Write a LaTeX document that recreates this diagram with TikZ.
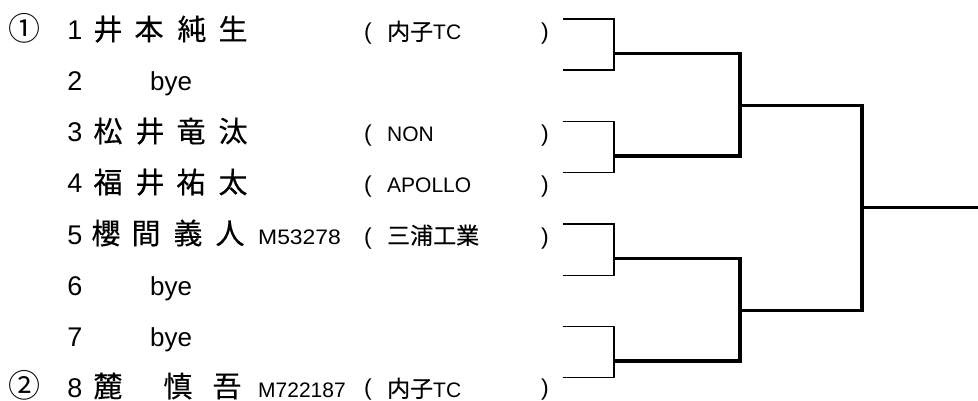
\documentclass[tikz,border=0pt]{standalone}
\usepackage{fontspec}
\setmainfont{Liberation Sans}
\newfontfamily\jp[FakeBold=0.4]{Noto Sans CJK JP}
\newfontfamily\jpc{Noto Sans CJK JP}
\tikzset{
  numtxt/.style={font=\fontsize{27}{27}\selectfont, inner sep=0pt, anchor=base},
  byetxt/.style={font=\fontsize{26}{26}\selectfont, inner sep=0pt, anchor=base west},
  namechar/.style={font=\jp\fontsize{29}{29}\selectfont, inner sep=0pt, anchor=base},
  circnum/.style={font=\jpc\fontsize{32}{32}\selectfont, inner sep=0pt, anchor=base},
  idtxt/.style={font=\fontsize{21}{21}\selectfont, inner sep=0pt, anchor=base west},
  clubtxt/.style={font=\fontsize{21}{21}\selectfont, inner sep=0pt, anchor=base west},
  paren/.style={font=\fontsize{23}{23}\selectfont, inner sep=0pt, anchor=base},
  thinline/.style={line width=1.3pt, line cap=rect},
  heavyline/.style={line width=3.2pt, line cap=rect},
}
\newcommand{\cj}[1]{{\jp\fontsize{23}{23}\selectfont #1}}
\begin{document}
\begin{tikzpicture}[x=1pt,y=-1pt]
\useasboundingbox (0,0) rectangle (978,401);
% circled seeds
\node[circnum] (c1) at (25,41) {①};
\node[circnum] (c2) at (25,397) {②};
% row numbers
\foreach \i in {1,...,8}{
  \node[numtxt] (n\i) at (75,{40+51*(\i-1)}) {\i};
}
% row 1
\node[namechar] (r1a) at (108,40) {井};
\node[namechar] (r1b) at (149,40) {本};
\node[namechar] (r1c) at (192,40) {純};
\node[namechar] (r1d) at (233,40) {生};
\node[paren] (r1l) at (368,40) {(};
\node[clubtxt] (r1t) at (387,40) {\cj{内子}TC};
\node[paren] (r1r) at (545,40) {)};
% row 2
\node[byetxt] (r2) at (150,91) {bye};
% row 3
\node[namechar] (r3a) at (108,142) {松};
\node[namechar] (r3b) at (150,142) {井};
\node[namechar] (r3c) at (191,142) {竜};
\node[namechar] (r3d) at (233,142) {汰};
\node[paren] (r3l) at (368,142) {(};
\node[clubtxt] (r3t) at (387,142) {NON};
\node[paren] (r3r) at (545,142) {)};
% row 4
\node[namechar] (r4a) at (108,193) {福};
\node[namechar] (r4b) at (150,193) {井};
\node[namechar] (r4c) at (191,193) {祐};
\node[namechar] (r4d) at (233,193) {太};
\node[paren] (r4l) at (368,193) {(};
\node[clubtxt] (r4t) at (387,193) {APOLLO};
\node[paren] (r4r) at (545,193) {)};
% row 5
\node[namechar] (r5a) at (106,244) {櫻};
\node[namechar] (r5b) at (146,244) {間};
\node[namechar] (r5c) at (188,244) {義};
\node[namechar] (r5d) at (230,244) {人};
\node[idtxt] (r5i) at (258,244) {\scalebox{1.09}[1]{M53278}};
\node[paren] (r5l) at (368,244) {(};
\node[clubtxt] (r5t) at (387,244) {\cj{三浦工業}};
\node[paren] (r5r) at (545,244) {)};
% rows 6,7
\node[byetxt] (r6) at (150,295) {bye};
\node[byetxt] (r7) at (150,346) {bye};
% row 8
\node[namechar] (r8a) at (108,397) {麓};
\node[namechar] (r8b) at (178,397) {慎};
\node[namechar] (r8c) at (227,397) {吾};
\node[idtxt] (r8i) at (258,397) {M722187};
\node[paren] (r8l) at (368,395) {(};
\node[clubtxt] (r8t) at (387,397) {\cj{内子}TC};
\node[paren] (r8r) at (545,395) {)};
% bracket coordinates
\coordinate (a1) at (564,19);    \coordinate (a2) at (564,70);
\coordinate (a3) at (564,121.7); \coordinate (a4) at (564,172.7);
\coordinate (a5) at (564,224);   \coordinate (a6) at (564,275.3);
\coordinate (a7) at (564,326.7); \coordinate (a8) at (564,377.7);
\coordinate (v1) at (614,19);    \coordinate (v2) at (614,70);
\coordinate (v3) at (614,121.7); \coordinate (v4) at (614,172.7);
\coordinate (v5) at (614,224);   \coordinate (v6) at (614,275.3);
\coordinate (v7) at (614,326.7); \coordinate (v8) at (614,377.7);
\coordinate (m1) at (615,53.3);  \coordinate (m2) at (615,156);
\coordinate (m3) at (615,258.3); \coordinate (m4) at (615,361);
\coordinate (w1) at (740,53.3);  \coordinate (w2) at (740,156);
\coordinate (w3) at (740,258.3); \coordinate (w4) at (740,361);
\coordinate (s1) at (740,105.3); \coordinate (s2) at (740,310.3);
\coordinate (x1) at (862,105.3); \coordinate (x2) at (862,310.3);
\coordinate (f0) at (862,207.3); \coordinate (f1) at (978,207.3);
% first round (thin)
\draw[thinline] (a1) -- (v1) -- (v2) -- (a2);
\draw[thinline] (a3) -- (v3) -- (v4) -- (a4);
\draw[thinline] (a5) -- (v5) -- (v6) -- (a6);
\draw[thinline] (a7) -- (v7) -- (v8) -- (a8);
% later rounds (thick)
\draw[heavyline] (m1) -- (w1) -- (w2) -- (m2);
\draw[heavyline] (m3) -- (w3) -- (w4) -- (m4);
\draw[heavyline] (s1) -- (x1) -- (x2) -- (s2);
\draw[heavyline] (f0) -- (f1);
\end{tikzpicture}
\end{document}
